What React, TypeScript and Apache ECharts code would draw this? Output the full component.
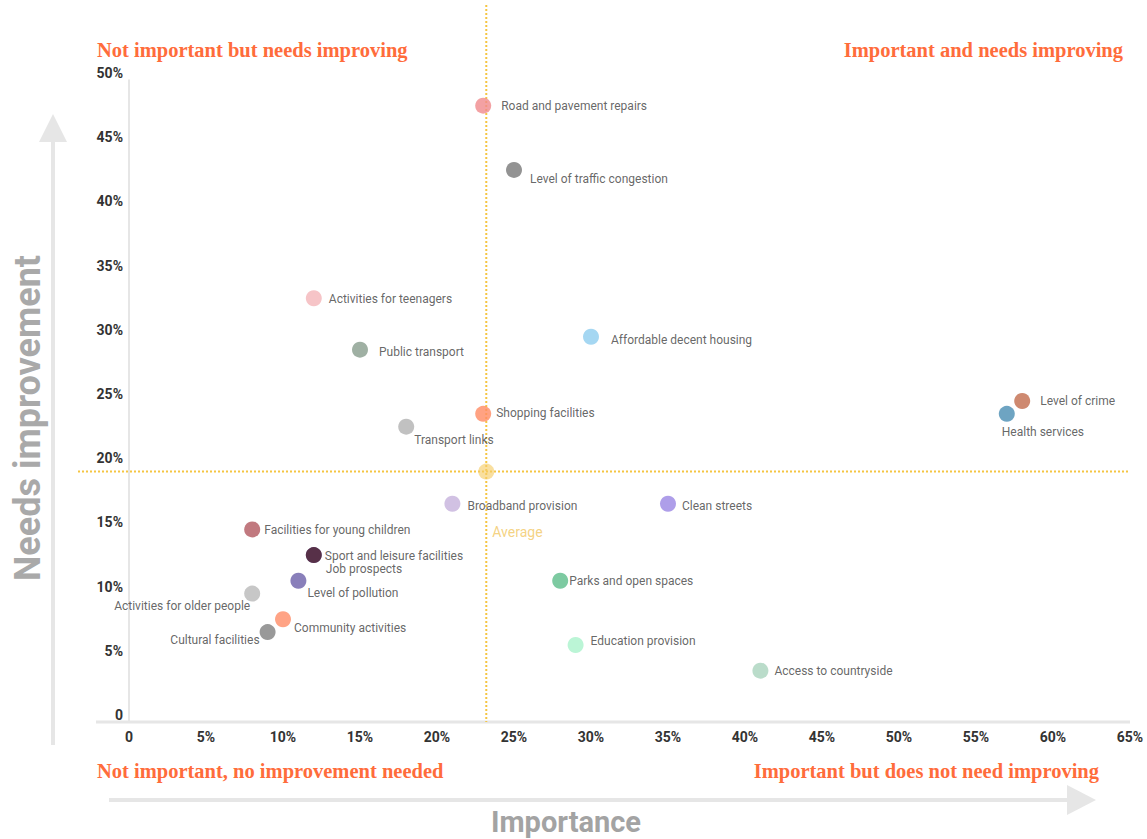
import React, { useEffect, useRef } from "react";
import * as echarts from "echarts";

// ---- Data ----
const itemNames = [
  "Road and pavement repairs",
  "Level of traffic congestion",
  "Activities for teenagers",
  "Public transport",
  "Affordable decent housing",
  "Level of crime",
  "Health services",
  "Shopping facilities",
  "Transport links",
  "Broadband provision",
  "Clean streets",
  "Facilities for young children",
  "Job prospects",
  "Sport and leisure facilities",
  "Level of pollution",
  "Parks and open spaces",
  "Activities for older people",
  "Community activities",
  "Cultural facilities",
  "Education provision",
  "Access to countryside",
];
const importance = [23, 25, 12, 15, 30, 58, 57, 23, 18, 21, 35, 8, 12, 12, 11, 28, 8, 10, 9, 29, 41];
const needsImprovement = [48, 43, 33, 29, 30, 25, 24, 24, 23, 17, 17, 15, 13, 13, 11, 11, 10, 8, 7, 6, 4];
const pointColors = [
  "#f08a8c", "#787878", "#f4b5b9", "#879c8c", "#8fcdef", "#c26b4c", "#4a8db3",
  "#ff8b63", "#b2b2b2", "#c5b1dc", "#9a86e3", "#b2585f", "#6a5ca8", "#4b1d2c",
  "#6b5fa9", "#5cbd8a", "#b9b9b9", "#ff8c66", "#7f7f7f", "#aaf2cc", "#a9d3bd",
];
const averageName = "Average";
const averageImportance = 23.2;
const averageNeeds = 19.5;

const xMin = 0, xMax = 65, yMin = 0, yMax = 50, tickStep = 5;

const quadrantTitles = [
  "Not important but needs improving",
  "Important and needs improving",
  "Not important, no improvement needed",
  "Important but does not need improving",
];
const xTitle = "Importance";
const yTitle = "Needs improvement";

// ---- Label layout (pixel offsets from point centre) ----
const labelLayout: Record<string, [number, number, "left" | "right"]> = {
  "Road and pavement repairs": [18, 0, "left"],
  "Level of traffic congestion": [16, 9, "left"],
  "Activities for teenagers": [15, 1, "left"],
  "Public transport": [19, 2, "left"],
  "Affordable decent housing": [20, 3, "left"],
  "Level of crime": [18, 0, "left"],
  "Health services": [-5, 18, "left"],
  "Shopping facilities": [13, -1, "left"],
  "Transport links": [8, 13, "left"],
  "Broadband provision": [15, 2, "left"],
  "Clean streets": [14, 2, "left"],
  "Facilities for young children": [12, 1, "left"],
  "Sport and leisure facilities": [11, 1, "left"],
  "Job prospects": [12, 14, "left"],
  "Level of pollution": [9, 12, "left"],
  "Parks and open spaces": [9, 0, "left"],
  "Activities for older people": [-2, 12, "right"],
  "Community activities": [11, 9, "left"],
  "Cultural facilities": [-8, 8, "right"],
  "Education provision": [15, -4, "left"],
  "Access to countryside": [14, 0, "left"],
  Average: [6, 60, "left"],
};

const SYM = 16;
const pctFmt = (v: number) => (v === 0 ? "0" : v + "%");

export default function App() {
  const ref = useRef<HTMLDivElement>(null);
  useEffect(() => {
    document.body.style.margin = "0";
    const chart = echarts.init(ref.current!, undefined, { renderer: "svg" });
    const mkLabel = (name: string, color: string) => {
      const l = labelLayout[name] || [12, 0, "left"];
      return {
        show: true,
        formatter: name,
        position: [SYM / 2 + l[0], SYM / 2 + l[1]],
        align: l[2],
        verticalAlign: "middle",
        color,
        fontFamily: "Roboto",
        fontSize: 12,
      };
    };
    const data = itemNames.map((n, i) => ({
      name: n,
      value: [importance[i], needsImprovement[i]],
      itemStyle: { color: pointColors[i] },
      label: mkLabel(n, "#404040"),
    }));
    const gridLeft = 129, gridRight = 17, gridTop = 80, gridBottom = 117;
    chart.setOption({
      animation: false,
      textStyle: { fontFamily: "Roboto" },
      grid: { left: gridLeft, right: gridRight, top: gridTop, bottom: gridBottom, containLabel: false },
      xAxis: {
        type: "value",
        min: xMin,
        max: xMax,
        interval: tickStep,
        axisLine: { show: false },
        axisTick: { show: false },
        splitLine: { show: false },
        axisLabel: {
          formatter: pctFmt,
          color: "#333",
          fontWeight: "bold",
          fontSize: 14,
          margin: 8,
        },
      },
      yAxis: {
        type: "value",
        min: yMin,
        max: yMax,
        interval: tickStep,
        axisLine: { show: true, lineStyle: { color: "#dedede", width: 1.5 } },
        axisTick: { show: false },
        splitLine: { show: false },
        axisLabel: {
          formatter: pctFmt,
          color: "#333",
          fontWeight: "bold",
          fontSize: 14,
          margin: 6,
          verticalAlign: "bottom",
          padding: [0, 0, 0, 0],
        },
      },
      series: [
        {
          type: "scatter",
          z: 5,
          symbolSize: SYM,
          data,
          emphasis: { disabled: true },
        },
        {
          type: "scatter",
          z: 5,
          symbolSize: SYM,
          data: [
            {
              name: averageName,
              value: [averageImportance, averageNeeds],
              itemStyle: { color: "rgba(245, 205, 105, 0.8)" },
              label: { ...mkLabel(averageName, "#f2c763"), fontSize: 14 },
            },
          ],
          emphasis: { disabled: true },
        },
      ],
    });

    const avg = chart.convertToPixel({ gridIndex: 0 }, [averageImportance, averageNeeds]) as number[];
    const origin = chart.convertToPixel({ gridIndex: 0 }, [xMin, yMin]) as number[];
    const far = chart.convertToPixel({ gridIndex: 0 }, [xMax, yMax]) as number[];
    const grey = "#e6e6e6";
    const orange = "#ff6c3b";
    const serif = "'Liberation Serif', 'DejaVu Serif', serif";
    const qSize = 20.5;
    chart.setOption({
      graphic: {
        elements: [
          {
            type: "line", z: 1, silent: true,
            shape: { x1: 96, y1: origin[1], x2: far[0], y2: origin[1] },
            style: { stroke: grey, lineWidth: 3 },
          },
          {
            type: "line", z: 2, silent: true,
            shape: { x1: avg[0], y1: 5, x2: avg[0], y2: origin[1] },
            style: { stroke: "#f5c542", lineWidth: 2, lineDash: [2, 2] },
          },
          {
            type: "line", z: 2, silent: true,
            shape: { x1: 78, y1: avg[1], x2: far[0], y2: avg[1] },
            style: { stroke: "#f5c542", lineWidth: 2, lineDash: [2, 2] },
          },
          // vertical arrow
          {
            type: "line", silent: true,
            shape: { x1: 53, y1: 745, x2: 53, y2: 138 },
            style: { stroke: grey, lineWidth: 4 },
          },
          {
            type: "polygon", silent: true,
            shape: { points: [[53, 114], [67, 142], [39, 142]] },
            style: { fill: grey },
          },
          // horizontal arrow
          {
            type: "line", silent: true,
            shape: { x1: 109, y1: 800, x2: 1070, y2: 800 },
            style: { stroke: grey, lineWidth: 4 },
          },
          {
            type: "polygon", silent: true,
            shape: { points: [[1096, 800], [1067, 785], [1067, 815]] },
            style: { fill: grey },
          },
          {
            type: "text", silent: true, x: 28, y: 418, rotation: Math.PI / 2,
            style: {
              text: yTitle, fill: "#a9a9a9", fontSize: 36, fontWeight: "bold",
              fontFamily: "Roboto", align: "center", verticalAlign: "middle",
            },
          },
          {
            type: "text", silent: true, x: 566, y: 822,
            style: {
              text: xTitle, fill: "#a3a3a3", fontSize: 29, fontWeight: "bold",
              fontFamily: "Roboto", align: "center", verticalAlign: "middle",
            },
          },
          {
            type: "text", silent: true, x: 97, y: 50,
            style: { text: quadrantTitles[0], fill: orange, fontSize: qSize, fontWeight: "bold", fontFamily: serif, align: "left", verticalAlign: "middle" },
          },
          {
            type: "text", silent: true, x: 1123, y: 50,
            style: { text: quadrantTitles[1], fill: orange, fontSize: qSize, fontWeight: "bold", fontFamily: serif, align: "right", verticalAlign: "middle" },
          },
          {
            type: "text", silent: true, x: 97, y: 771,
            style: { text: quadrantTitles[2], fill: orange, fontSize: qSize, fontWeight: "bold", fontFamily: serif, align: "left", verticalAlign: "middle" },
          },
          {
            type: "text", silent: true, x: 1099, y: 771,
            style: { text: quadrantTitles[3], fill: orange, fontSize: qSize, fontWeight: "bold", fontFamily: serif, align: "right", verticalAlign: "middle" },
          },
        ],
      },
    });
    return () => chart.dispose();
  }, []);
  return (
    <div
      ref={ref}
      style={{ position: "fixed", left: 0, top: 0, width: 1147, height: 839, background: "#fff" }}
    />
  );
}
